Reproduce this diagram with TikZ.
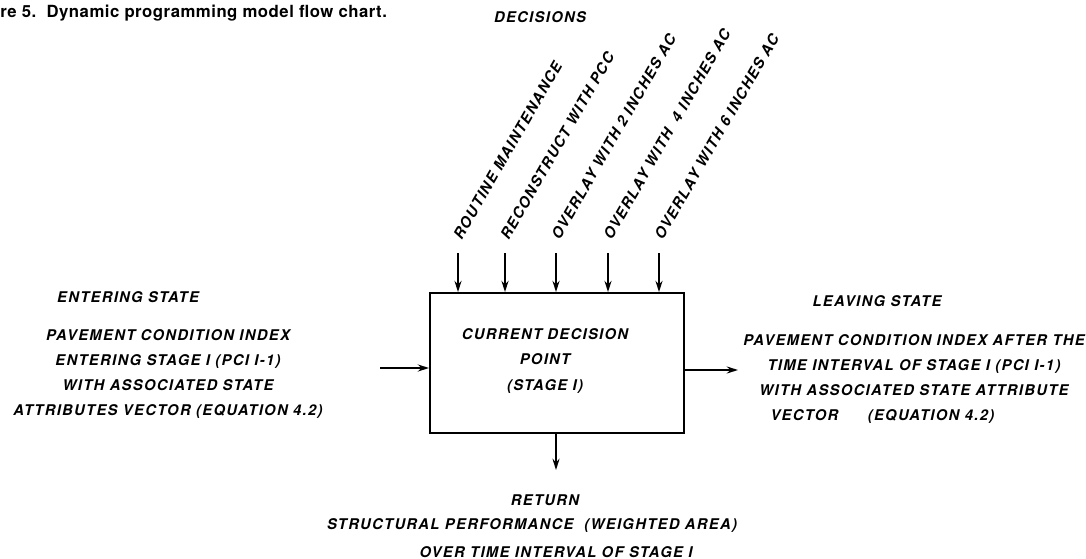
\documentclass[tikz,border=0pt]{standalone}
\usepackage{fontspec}
\setmainfont{TeX Gyre Heros}
\newfontfamily\chartfont[LetterSpace=9]{TeX Gyre Heros}
\newfontfamily\capfont[LetterSpace=3]{TeX Gyre Heros}
\usetikzlibrary{arrows.meta,positioning}

\begin{document}
\begin{tikzpicture}[x=0.025cm,y=-0.025cm,
    lab/.style={font=\chartfont\bfseries\itshape\fontsize{10.5}{12}\selectfont,inner sep=0pt},
    txt/.style={lab,align=center},
    arr/.style={-{Stealth[length=8pt,width=5pt]},line width=1.3pt}]
  \useasboundingbox (0,0) rectangle (1086,559);
  % caption and heading
  \node[anchor=west,inner sep=0pt,font=\capfont\bfseries\fontsize{11.9}{13}\selectfont] (cap) at (0,13) {re 5.\ \ Dynamic programming model flow chart.};
  \node[lab] (dec) at (540,17) {DECISIONS};
  % decision point
  \node[draw,line width=1.3pt,minimum width=6.35cm,minimum height=3.5cm,inner sep=0pt] (dp) at (557,363) {};
  \node[txt] (cur) at (545,361) {CURRENT DECISION\\[6pt] POINT\\[6pt] (STAGE I)};
  % decisions
  \foreach [count=\i] \x/\lab in {458/ROUTINE MAINTENANCE,505/RECONSTRUCT WITH PCC,556/OVERLAY WITH 2 INCHES AC,608/OVERLAY WITH \ 4 INCHES AC,659/OVERLAY WITH 6 INCHES AC} {
    \coordinate (d\i) at (\x,253);
    \node[lab,rotate=60,anchor=west] (l\i) at (\x-1,238) {\lab};
    \draw[arr] (d\i) -- (d\i |- dp.north);
  }
  % entering state
  \node[lab] (ent) at (128,297) {ENTERING STATE};
  \node[txt] (entx) at (168,374) {PAVEMENT CONDITION INDEX\\[6pt] ENTERING STAGE I (PCI I-1)\\[6pt] WITH ASSOCIATED STATE\\[6pt] ATTRIBUTES VECTOR (EQUATION 4.2)};
  \coordinate (in) at (380,368);
  \draw[arr] (in) -- (in -| dp.west);
  % leaving state
  \node[lab] (lea) at (877,301) {LEAVING STATE};
  \node[txt] (leax) at (914,379) {PAVEMENT CONDITION INDEX AFTER THE\\[6pt] TIME INTERVAL OF STAGE I (PCI I-1)\\[6pt] WITH ASSOCIATED STATE ATTRIBUTE\\[6pt] VECTOR\quad\quad (EQUATION 4.2)\hspace*{45pt}};
  \coordinate (out) at (738,370);
  \draw[arr] (out -| dp.east) -- (out);
  % return
  \coordinate (ret) at (556,470);
  \draw[arr] (ret |- dp.south) -- (ret);
  \node[lab] (rt) at (545,500) {RETURN};
  \node[lab] (rt2) at (532,526) {STRUCTURAL PERFORMANCE \ (WEIGHTED AREA)};
  \node[lab] (rt3) at (556,552) {OVER TIME INTERVAL OF STAGE I};
\end{tikzpicture}
\end{document}
